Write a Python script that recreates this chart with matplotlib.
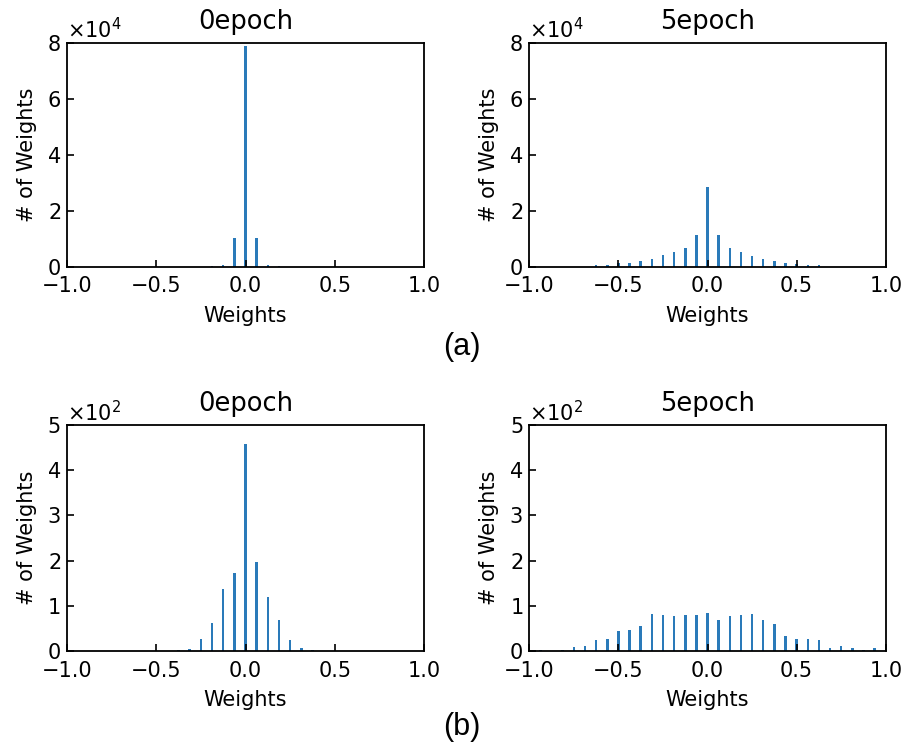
import numpy as np
from matplotlib import pyplot as plt
from matplotlib.ticker import ScalarFormatter

# quantized weight levels (step 1/16) and counts per level
step = 1 / 16

# (a) layer with many weights, counts in units of 1e4
levels_a0 = np.arange(-3, 4) * step
counts_a0 = [0.01, 0.05, 1.03, 7.88, 1.03, 0.05, 0.01]

levels_a5 = np.arange(-10, 11) * step
counts_a5 = [0.06, 0.06, 0.12, 0.15, 0.20, 0.29, 0.43, 0.52, 0.67, 1.13, 2.83,
             1.13, 0.67, 0.52, 0.37, 0.29, 0.19, 0.14, 0.10, 0.05, 0.05]

# (b) small layer, counts in units of 1e2
levels_b0 = np.arange(-6, 7) * step
counts_b0 = [0.03, 0.05, 0.27, 0.63, 1.37, 1.73, 4.59,
             1.96, 1.20, 0.68, 0.24, 0.07, 0.03]

levels_b5 = np.arange(-15, 16) * step
counts_b5 = [0.03, 0.00, 0.03, 0.08, 0.12, 0.24, 0.27, 0.45, 0.47, 0.55, 0.82,
             0.80, 0.77, 0.80, 0.80, 0.85, 0.68, 0.77, 0.80, 0.83, 0.68, 0.59,
             0.34, 0.26, 0.26, 0.24, 0.06, 0.11, 0.06, 0.02, 0.06]

panels = [
    ('0epoch', levels_a0, counts_a0, 1e4, 8, 2),
    ('5epoch', levels_a5, counts_a5, 1e4, 8, 2),
    ('0epoch', levels_b0, counts_b0, 1e2, 5, 1),
    ('5epoch', levels_b5, counts_b5, 1e2, 5, 1),
]

fig = plt.figure(figsize=(9.07, 7.49), dpi=100)
rects = [
    [0.0739, 0.6439, 0.3936, 0.2993],
    [0.5836, 0.6439, 0.3930, 0.2993],
    [0.0739, 0.1308, 0.3936, 0.3017],
    [0.5836, 0.1308, 0.3930, 0.3017],
]

for rect, (title, x, c, scale, ymax, ystep) in zip(rects, panels):
    ax = fig.add_axes(rect)
    ax.bar(x, np.array(c) * scale, width=0.014, color='#2a7ab9', linewidth=0)
    ax.set_xlim(-1, 1)
    ax.set_ylim(0, ymax * scale)
    ax.set_xticks([-1.0, -0.5, 0.0, 0.5, 1.0])
    ax.set_yticks(np.arange(0, ymax + 1, ystep) * scale)
    fmt = ScalarFormatter(useMathText=True)
    fmt.set_powerlimits((0, 0))
    ax.yaxis.set_major_formatter(fmt)
    ax.yaxis.get_offset_text().set_fontsize(15)
    ax.tick_params(direction='in', labelsize=15, length=5, width=1.2)
    ax.tick_params(axis='x', pad=7)
    ax.tick_params(axis='y', pad=4.5)
    for s in ax.spines.values():
        s.set_linewidth(1.3)
    ax.set_title(title, fontsize=18.5, pad=10)
    ax.set_xlabel('Weights', fontsize=15, labelpad=7)
    ax.set_ylabel('# of Weights', fontsize=15, labelpad=7)

fig.text(0.509, 1 - 347 / 749, '(a)', fontsize=22, family='Liberation Sans',
         ha='center', va='center')
fig.text(0.509, 1 - 727 / 749, '(b)', fontsize=22, family='Liberation Sans',
         ha='center', va='center')

fig.savefig('out.png', dpi=100)
